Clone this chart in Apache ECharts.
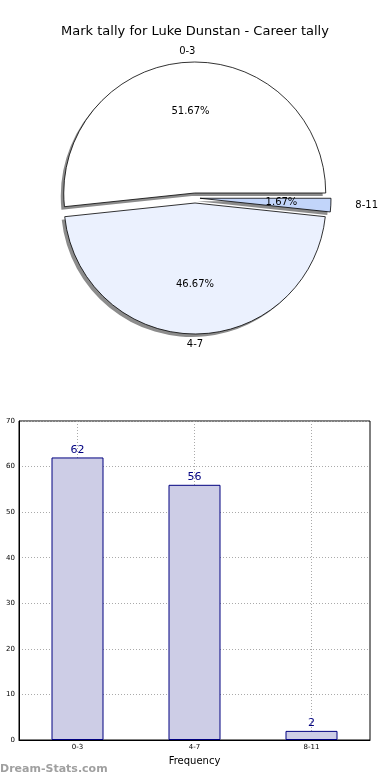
<!DOCTYPE html>
<html>
<head>
<meta charset="utf-8">
<script src="https://cdn.jsdelivr.net/npm/echarts@6/dist/echarts.min.js"></script>
<style>
html,body{margin:0;padding:0;background:#fff;}
#chart{width:390px;height:780px;}
</style>
</head>
<body>
<div id="chart"></div>
<script>
var titleText = 'Mark tally for Luke Dunstan - Career tally';
var categories = ['0-3', '4-7', '8-11'];
var counts = [62, 56, 2];
var pieColors = ['#ffffff', '#ebf1fe', '#c2d5fa'];
var yTicks = [0, 10, 20, 30, 40, 50, 60, 70];

var chart = echarts.init(document.getElementById('chart'), null, {renderer: 'canvas'});

var total = counts.reduce(function (a, b) { return a + b; }, 0);
var pieCenter = [195, 198];
var pieR = 131;
var explode = 5;

var pieData = categories.map(function (c, i) {
  return {name: c, value: counts[i], selected: true, itemStyle: {color: pieColors[i]}};
});
var shadowData = categories.map(function (c, i) {
  return {name: c, value: counts[i], selected: true};
});
var pctData = categories.map(function (c, i) {
  return {name: c, value: counts[i], selected: true};
});
var nameData = categories.map(function (c, i) {
  var d = {name: c, value: counts[i], selected: true};
  if (i === 2) { d.label = {padding: [0, 0, 0, 50]}; }
  return d;
});
var gridCats = ['', categories[0], '', categories[1], '', categories[2], ''];

function basePie(extra) {
  var s = {
    type: 'pie',
    silent: true,
    center: pieCenter,
    radius: pieR,
    startAngle: 0,
    clockwise: false,
    selectedMode: 'multiple',
    selectedOffset: explode,
    labelLine: {show: false},
    emphasis: {disabled: true}
  };
  for (var k in extra) s[k] = extra[k];
  return s;
}

var option = {
  animation: false,
  backgroundColor: '#ffffff',
  title: {
    text: titleText,
    left: 'center',
    top: 20,
    textStyle: {fontFamily: 'DejaVu Sans', fontSize: 13, fontWeight: 'normal', color: '#000'}
  },
  graphic: [{
    type: 'text', left: 0, top: 764,
    style: {text: 'Dream-Stats.com', fontFamily: 'DejaVu Sans', fontSize: 11, fontWeight: 'bold', fill: '#a0a0a0'}
  }],
  grid: {left: 19, right: 20, top: 421, bottom: 40, show: true, borderColor: '#000', borderWidth: 1, backgroundColor: 'transparent'},
  xAxis: [{
    type: 'category',
    data: categories,
    name: 'Frequency',
    nameLocation: 'middle',
    nameGap: 16,
    nameTextStyle: {fontFamily: 'DejaVu Sans', fontSize: 10, color: '#000'},
    axisLine: {show: true, lineStyle: {color: '#000'}},
    axisTick: {show: false},
    axisLabel: {fontFamily: 'DejaVu Sans', fontSize: 7, color: '#000', margin: 4},
    splitLine: {show: false}
  }, {
    type: 'category',
    data: gridCats,
    boundaryGap: false,
    position: 'bottom',
    axisLine: {show: false},
    axisTick: {show: false},
    axisLabel: {show: false},
    splitLine: {show: true, interval: function (idx) { return idx % 2 === 1; }, lineStyle: {color: '#aaaaaa', type: [1, 2], width: 1}}
  }],
  yAxis: {
    type: 'value',
    min: yTicks[0],
    max: yTicks[yTicks.length - 1],
    interval: 10,
    axisLine: {show: true, lineStyle: {color: '#000'}},
    axisTick: {show: false},
    axisLabel: {fontFamily: 'DejaVu Sans', fontSize: 7, color: '#000', margin: 4},
    splitLine: {show: true, lineStyle: {color: '#aaaaaa', type: [1, 2], width: 1}}
  },
  series: [
    basePie({
      center: [pieCenter[0] - 3, pieCenter[1] + 3],
      data: shadowData,
      label: {show: false},
      itemStyle: {color: '#8c8c8c', borderWidth: 0}
    }),
    basePie({
      data: pieData,
      label: {show: false},
      itemStyle: {borderColor: '#000', borderWidth: 0.8}
    }),
    basePie({
      radius: pieR * 1.2,
      data: pctData,
      itemStyle: {color: 'rgba(0,0,0,0)', borderWidth: 0},
      label: {show: true, position: 'inside', fontFamily: 'DejaVu Sans', fontSize: 10, color: '#000',
        formatter: function (p) { return (p.value / total * 100).toFixed(2) + '%'; }}
    }),
    basePie({
      radius: pieR * 2.12,
      data: nameData,
      itemStyle: {color: 'rgba(0,0,0,0)', borderWidth: 0},
      label: {show: true, position: 'inside', formatter: '{b}', fontFamily: 'DejaVu Sans', fontSize: 10, color: '#000'}
    }),
    {
      type: 'bar',
      xAxisIndex: 0,
      yAxisIndex: 0,
      data: counts,
      barWidth: 52,
      itemStyle: {color: '#cdcde6', borderColor: '#000080', borderWidth: 1},
      label: {show: true, position: 'top', distance: 2, color: '#000080', fontFamily: 'DejaVu Sans', fontSize: 11},
      emphasis: {disabled: true}
    }
  ]
};
chart.setOption(option);
</script>
</body>
</html>
